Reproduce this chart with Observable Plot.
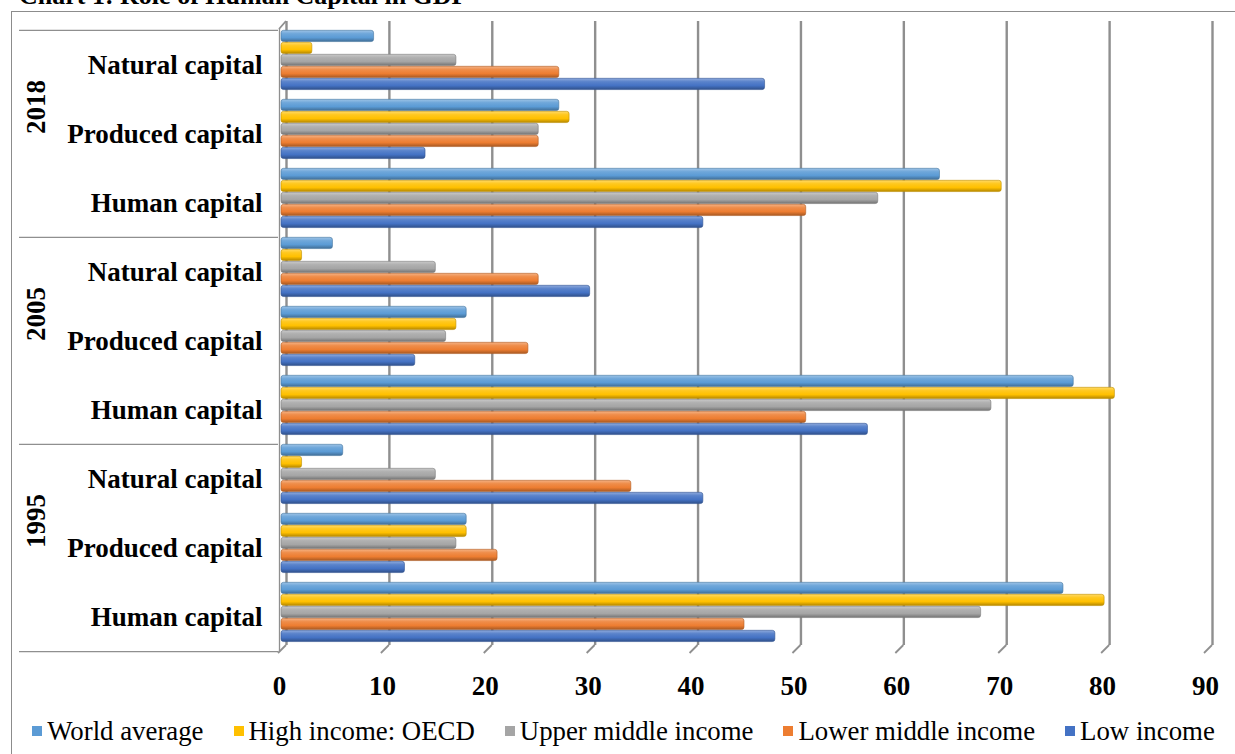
<!DOCTYPE html>
<html>
<head>
<meta charset="utf-8">
<script src="https://cdn.jsdelivr.net/npm/d3@7"></script>
<script src="https://cdn.jsdelivr.net/npm/@observablehq/plot@0.6"></script>
<style>
  html, body { margin: 0; padding: 0; background: #fff; }
  #page { position: relative; width: 1235px; height: 754px; overflow: hidden; background: #fff; }
  #title { position: absolute; left: 19px; top: -17px; font: bold 26px/26px "Liberation Serif", "Times New Roman", Times, serif; color: #000; white-space: nowrap; }
  #chart { position: absolute; left: 0; top: 0; }
  #border { position: absolute; left: 11px; top: 11px; width: 1400px; height: 900px; border: 1.5px solid #8c8c8c; box-sizing: border-box; pointer-events: none; }
  #legend { position: absolute; left: 6px; top: 713px; width: 1235px; height: 36px; display: flex; justify-content: center; align-items: center; gap: 30px; font-family: "Liberation Serif", "Times New Roman", Times, serif; font-size: 26.8px; line-height: 36px; color: #000; }
  #legend .item { display: flex; align-items: center; white-space: nowrap; }
  #legend .sw { width: 10px; height: 10px; margin-right: 5px; }
</style>
</head>
<body>
<div id="page">
  <div id="title">Chart 1: Role of Human Capital in GDP</div>
  <div id="chart"></div>
  <div id="legend"></div>
  <div id="border"></div>
</div>
<script>
// ---- data ----
const years = ["2018", "2005", "1995"];
const categories = ["Natural capital", "Produced capital", "Human capital"];
const seriesNames = ["World average", "High income: OECD", "Upper middle income", "Lower middle income", "Low income"];
const seriesColors = ["#5B9BD5", "#FFC000", "#A5A5A5", "#ED7D31", "#4472C4"];
const xTicks = [0, 10, 20, 30, 40, 50, 60, 70, 80, 90];
// values in order: 2018 (Natural, Produced, Human), 2005 (...), 1995 (...)
const worldAverage   = [9, 27, 64,  5, 18, 77,  6, 18, 76];
const highIncomeOECD = [3, 28, 70,  2, 17, 81,  2, 18, 80];
const upperMiddle    = [17, 25, 58, 15, 16, 69, 15, 17, 68];
const lowerMiddle    = [27, 25, 51, 25, 24, 51, 34, 21, 45];
const lowIncome      = [47, 14, 41, 30, 13, 57, 41, 12, 48];
const seriesValues = [worldAverage, highIncomeOECD, upperMiddle, lowerMiddle, lowIncome];

// ---- layout ----
const W = 1235, H = 705, mL = 279, mR = 30, mT = 29, mB = 53;
const keys = years.flatMap(y => categories.map(c => y + "|" + c));
const bw = (H - mT - mB) / keys.length;
const step = 12, barH = 11.5;
const gridStroke = "#8f8f8f";

const barMarks = seriesValues.map((vals, i) => {
  const rows = keys.map((k, j) => ({key: k, value: vals[j]}));
  return Plot.barX(rows, {
    x: "value", y: "key",
    fill: `url(#grad${i})`,
    stroke: d3.color(seriesColors[i]).darker(0.8).formatHex(),
    strokeWidth: 0.6,
    insetTop: 0.3 + step * i,
    insetBottom: bw - (0.3 + step * i) - barH,
    rx: 2.5,
    dx: 2
  });
});

const chart = Plot.plot({
  width: W, height: H,
  marginLeft: mL, marginRight: mR, marginTop: mT, marginBottom: mB,
  style: {fontFamily: "'Liberation Serif', 'Times New Roman', Times, serif", fontSize: "27px", fontWeight: "bold", background: "transparent", overflow: "visible"},
  x: {domain: [0, 90], ticks: xTicks, tickSize: 0, tickPadding: 23, label: null},
  y: {domain: keys, padding: 0, tickSize: 0, tickPadding: 17, tickFormat: k => k.split("|")[1], label: null},
  marks: [
    // back-wall gridlines
    Plot.ruleX(xTicks, {dx: 7, insetTop: -8, insetBottom: 7, stroke: gridStroke, strokeWidth: 2.4}),
    // front axis line
    Plot.ruleX([0], {stroke: gridStroke, strokeWidth: 1.3}),
    // group separators (top of each year group)
    Plot.ruleY(years.map(y => y + "|" + categories[0]), {x1: 0, x2: 0, insetLeft: -260, insetRight: 1, dy: -bw / 2, stroke: gridStroke, strokeWidth: 1.3}),
    // bottom separator
    Plot.ruleY([years[years.length - 1] + "|" + categories[categories.length - 1]], {x1: 0, x2: 0, insetLeft: -260, insetRight: 1, dy: bw / 2, stroke: gridStroke, strokeWidth: 1.3}),
    ...barMarks,
    // year labels
    Plot.text(years, {y: d => d + "|" + categories[1], text: d => d, frameAnchor: "left", dx: -243, rotate: -90, fontSize: 27, fontWeight: "bold"})
  ]
});

document.getElementById("chart").appendChild(chart);

// gradients for cylinder-like bars
const svg = d3.select(chart);
const defs = svg.insert("defs", ":first-child");
seriesColors.forEach((c, i) => {
  const base = d3.color(c);
  const g = defs.append("linearGradient").attr("id", "grad" + i).attr("x1", 0).attr("y1", 0).attr("x2", 0).attr("y2", 1);
  g.append("stop").attr("offset", "0%").attr("stop-color", d3.interpolateRgb(c, "#fff")(0.4));
  g.append("stop").attr("offset", "30%").attr("stop-color", d3.interpolateRgb(c, "#fff")(0.12));
  g.append("stop").attr("offset", "65%").attr("stop-color", c);
  g.append("stop").attr("offset", "100%").attr("stop-color", base.darker(1).formatHex());
});

// 3D floor slants using the plot's x scale
const xs = chart.scale("x");
const slants = svg.append("g").attr("stroke", gridStroke).attr("stroke-width", 1.8).attr("fill", "none");
xTicks.forEach(t => {
  const px = xs.apply(t);
  slants.append("line").attr("x1", px + 7).attr("y1", H - mB - 7).attr("x2", px - 1).attr("y2", H - mB + 1);
});
const x0 = xs.apply(0);
slants.append("line").attr("x1", x0).attr("y1", mT).attr("x2", x0 + 7).attr("y2", mT - 8);

// legend
const legend = document.getElementById("legend");
seriesNames.forEach((name, i) => {
  const item = document.createElement("div");
  item.className = "item";
  const sw = document.createElement("span");
  sw.className = "sw";
  sw.style.background = seriesColors[i];
  item.appendChild(sw);
  item.appendChild(document.createTextNode(name));
  legend.appendChild(item);
});
</script>
</body>
</html>
